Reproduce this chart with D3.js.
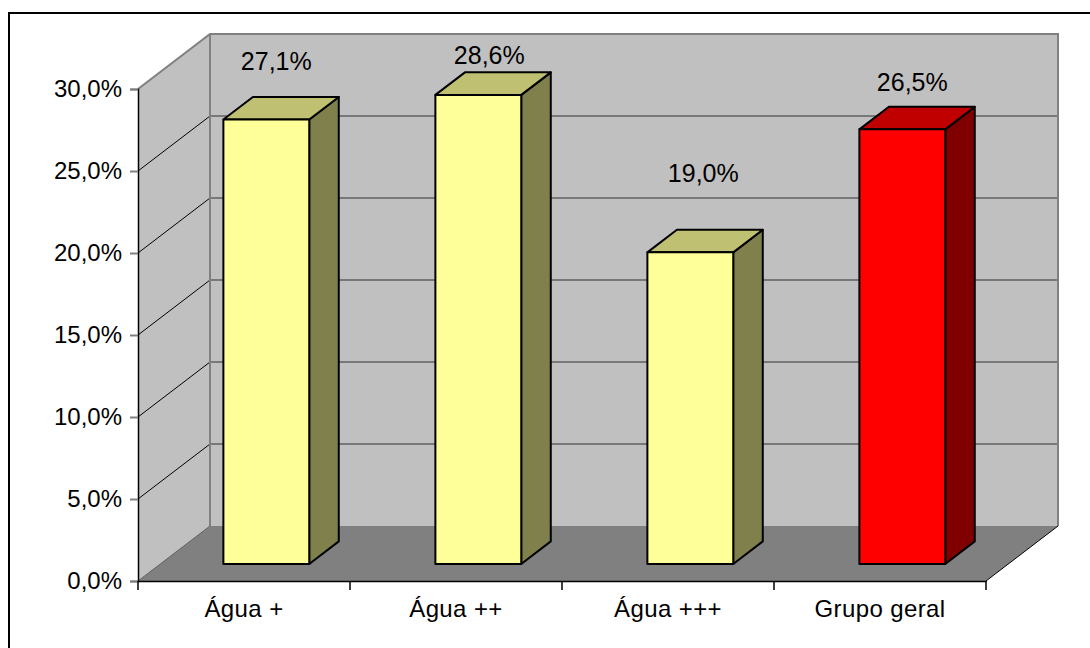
<!DOCTYPE html>
<html>
<head>
<meta charset="utf-8">
<script src="https://cdn.jsdelivr.net/npm/d3@7"></script>
<style>
  html, body { margin: 0; padding: 0; background: #fff; }
  svg { display: block; font-family: "Liberation Sans", Arial, sans-serif; }
</style>
</head>
<body>
<div id="viz"></div>
<script>
// Dados
const categories = ['Água +', 'Água ++', 'Água +++', 'Grupo geral'];
const values = [0.271, 0.286, 0.190, 0.265];
const valueLabels = ['27,1%', '28,6%', '19,0%', '26,5%'];
const yTicks = [0, 0.05, 0.10, 0.15, 0.20, 0.25, 0.30];
const yTickLabels = ['0,0%', '5,0%', '10,0%', '15,0%', '20,0%', '25,0%', '30,0%'];

const config = {
  width: 1090,
  height: 648,
  left: 138,
  right: 986,
  top: 89,
  bottom: 581,
  depthX: 72,     // profundidade da "caixa" 3D
  depthY: 55,
  barFront: 0.31, // posição da barra dentro da profundidade
  barBack: 0.72,
  barWidth: 0.405,
  fontSize: 24,
  // pequenos ajustes dos rótulos de valor (como o Excel os posiciona)
  labelNudge: [[10, -6], [11, 13], [13, -27], [10, 5]]
}

const palette = [
  { front: '#ffff99', top: '#c0c073', side: '#80804d' },
  { front: '#ffff99', top: '#c0c073', side: '#80804d' },
  { front: '#ffff99', top: '#c0c073', side: '#80804d' },
  { front: '#ff0000', top: '#c00000', side: '#800000' }
]

const svg = d3.select('#viz').append('svg')
  .attr('width', config.width)
  .attr('height', config.height);

// moldura externa (cortada à direita e em baixo)
svg.append('rect')
  .attr('x', 9).attr('y', 13)
  .attr('width', config.width + 20).attr('height', config.height + 20)
  .attr('fill', 'none').attr('stroke', '#000').attr('stroke-width', 2);

const xScale = d3.scaleBand()
  .domain(categories)
  .range([config.left, config.right]);

const yScale = d3.scaleLinear()
  .domain([0, 0.30])
  .range([config.bottom, config.top]);

const DX = config.depthX, DY = config.depthY;
const pts = p => p.map(d => d.join(',')).join(' ');

// parede lateral esquerda
svg.append('polygon')
  .attr('points', pts([[config.left, yScale(0.30)], [config.left + DX, yScale(0.30) - DY],
    [config.left + DX, yScale(0) - DY], [config.left, yScale(0)]]))
  .attr('fill', '#c0c0c0');

// parede do fundo
svg.append('rect')
  .attr('x', config.left + DX).attr('y', yScale(0.30) - DY)
  .attr('width', config.right - config.left).attr('height', yScale(0) - yScale(0.30))
  .attr('fill', '#c0c0c0');

// chão
svg.append('polygon')
  .attr('points', pts([[config.left, yScale(0)], [config.right, yScale(0)],
    [config.right + DX, yScale(0) - DY], [config.left + DX, yScale(0) - DY]]))
  .attr('fill', '#808080');

// linhas de grade
const grid = svg.append('g');
grid.selectAll('.gback')
  .data(yTicks.slice(1, -1))
  .enter().append('line')
  .attr('x1', config.left + DX).attr('x2', config.right + DX)
  .attr('y1', d => yScale(d) - DY).attr('y2', d => yScale(d) - DY)
  .attr('stroke', '#606060').attr('stroke-width', 1.5);

grid.selectAll('.gside')
  .data(yTicks.slice(1, -1))
  .enter().append('line')
  .attr('x1', config.left).attr('x2', config.left + DX)
  .attr('y1', d => yScale(d)).attr('y2', d => yScale(d) - DY)
  .attr('stroke', '#000').attr('stroke-width', 1);

// contornos das paredes
svg.append('polyline')
  .attr('points', pts([[config.left, yScale(0.30)], [config.left + DX, yScale(0.30) - DY],
    [config.right + DX, yScale(0.30) - DY], [config.right + DX, yScale(0) - DY]]))
  .attr('fill', 'none').attr('stroke', '#808080').attr('stroke-width', 2);
svg.append('line')
  .attr('x1', config.left + DX).attr('x2', config.left + DX)
  .attr('y1', yScale(0.30) - DY).attr('y2', yScale(0) - DY)
  .attr('stroke', '#808080').attr('stroke-width', 2);
svg.append('line')
  .attr('x1', config.left).attr('x2', config.left + DX)
  .attr('y1', yScale(0)).attr('y2', yScale(0) - DY)
  .attr('stroke', '#606060').attr('stroke-width', 1);
svg.append('line')
  .attr('x1', config.right).attr('x2', config.right + DX)
  .attr('y1', yScale(0)).attr('y2', yScale(0) - DY)
  .attr('stroke', '#000').attr('stroke-width', 1);

// barras 3D
const fx = config.barFront * DX, fy = config.barFront * DY;
const bx = config.barBack * DX, by = config.barBack * DY;
const bw = xScale.bandwidth() * config.barWidth;

const bars = svg.append('g').selectAll('g')
  .data(values)
  .enter().append('g');

bars.each(function (v, i) {
  const g = d3.select(this);
  const x0 = xScale(categories[i]) + xScale.bandwidth() / 2 - bw / 2;
  const x1 = x0 + bw;
  const yT = yScale(v), yB = yScale(0);
  const c = palette[i];
  // lado
  g.append('polygon')
    .attr('points', pts([[x1 + fx, yT - fy], [x1 + bx, yT - by], [x1 + bx, yB - by], [x1 + fx, yB - fy]]))
    .attr('fill', c.side);
  // topo
  g.append('polygon')
    .attr('points', pts([[x0 + fx, yT - fy], [x0 + bx, yT - by], [x1 + bx, yT - by], [x1 + fx, yT - fy]]))
    .attr('fill', c.top);
  // frente
  g.append('rect')
    .attr('x', x0 + fx).attr('y', yT - fy)
    .attr('width', bw).attr('height', yB - yT)
    .attr('fill', c.front);
  g.selectAll('polygon, rect')
    .attr('stroke', '#000').attr('stroke-width', 2).attr('stroke-linejoin', 'round');
});

// rótulos de valor
svg.append('g').selectAll('text')
  .data(values)
  .enter().append('text')
  .attr('x', (d, i) => xScale(categories[i]) + xScale.bandwidth() / 2 + fx + config.labelNudge[i][0])
  .attr('y', (d, i) => yScale(d) - by - 30 + config.labelNudge[i][1])
  .attr('dy', '0.35em')
  .attr('text-anchor', 'middle')
  .attr('font-size', config.fontSize + 1)
  .attr('fill', '#000')
  .text((d, i) => valueLabels[i]);

// eixo Y
const yAxis = svg.append('g')
  .attr('transform', `translate(${config.left},0)`)
  .call(d3.axisLeft(yScale).tickValues(yTicks).tickSize(8).tickPadding(8)
    .tickFormat((d, i) => yTickLabels[i]));
yAxis.select('.domain').attr('stroke', '#000').attr('stroke-width', 1.5);
yAxis.selectAll('.tick line').attr('stroke', '#808080').attr('stroke-width', 2);
yAxis.selectAll('.tick text')
  .attr('font-size', config.fontSize)
  .attr('font-family', '"Liberation Sans", Arial, sans-serif')
  .attr('fill', '#000');

// eixo X
const xAxis = svg.append('g')
  .attr('transform', `translate(0,${config.bottom})`)
  .call(d3.axisBottom(xScale).tickSize(0).tickPadding(19).tickSizeOuter(0));
xAxis.select('.domain').attr('stroke', '#000').attr('stroke-width', 1.5);
xAxis.selectAll('.tick text')
  .attr('font-size', config.fontSize)
  .attr('font-family', '"Liberation Sans", Arial, sans-serif')
  .attr('letter-spacing', '0.4px')
  .attr('fill', '#000');

// marcas entre categorias
xAxis.selectAll('.sep')
  .data(d3.range(categories.length + 1))
  .enter().append('line')
  .attr('x1', i => config.left + i * xScale.step())
  .attr('x2', i => config.left + i * xScale.step())
  .attr('y1', 0).attr('y2', 9)
  .attr('stroke', '#000').attr('stroke-width', 1.5);
</script>
</body>
</html>
